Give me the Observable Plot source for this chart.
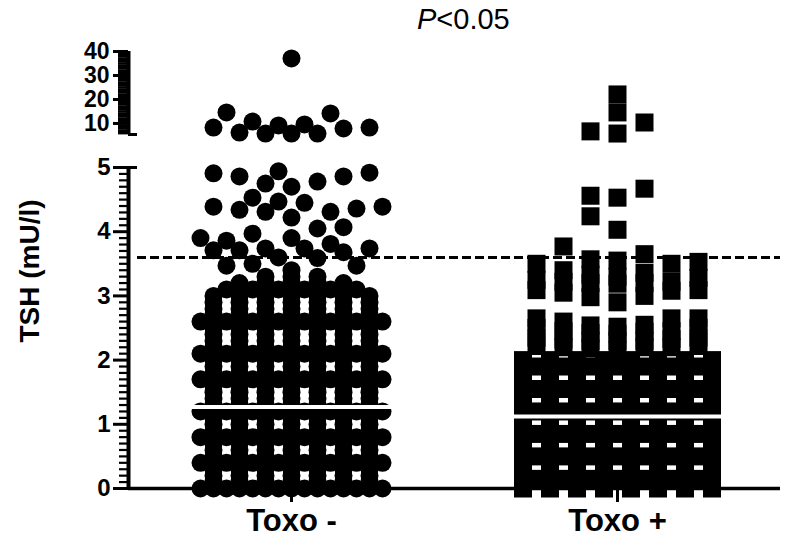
<!DOCTYPE html>
<html><head><meta charset="utf-8">
<script src="https://cdn.jsdelivr.net/npm/d3@7"></script>
<script src="https://cdn.jsdelivr.net/npm/@observablehq/plot@0.6"></script>
<style>
body{margin:0;background:#fff;}
#wrap{position:relative;width:788px;height:538px;font-family:"Liberation Sans",Arial,sans-serif;background:#fff;}
#wrap svg{position:absolute;left:0;top:0;}
#title{position:absolute;left:417px;top:3px;font-size:29px;line-height:32px;white-space:nowrap;color:#000;z-index:5;}
</style></head><body>
<div id="wrap"><div id="title"><i>P</i>&lt;0.05</div></div>
<script>
// ---- data ----
const groups = ["Toxo -", "Toxo +"];
// TSH values that repeat many times (value, number of subjects)
const toxoNegLevels = [0.0,0.1,0.2,0.3,0.4,0.5,0.6,0.7,0.8,0.9,1.0,1.1,1.2,1.3,1.4,1.5,1.6,1.7,1.8,1.9,2.0,2.1,2.2,2.3,2.4,2.5,2.6,2.7,2.8,2.9,3.0,3.1,3.2,3.3,3.4];
const toxoNegCounts = [15,7,7,7,15,7,7,7,15,7,7,7,15,7,7,7,7,15,7,7,7,15,7,7,7,7,15,7,7,7,7,6,5,3,1];
// isolated values
const toxoNegSparse = [3.47,3.47,3.50,3.59,3.60,3.68,3.71,3.71,3.74,3.74,3.74,
  3.81,3.86,3.90,3.90,3.97,4.05,4.07,
  4.22,4.31,4.31,4.34,4.36,4.39,4.39,4.45,4.47,4.53,
  4.70,4.75,4.78,4.86,4.86,4.91,4.92,4.94,
  5.8,5.8,5.8,6.2,7.9,8.3,8.3,9.2,9.6,10.8,14.2,14.6,37.1];
const toxoPosLevels = [0.0,0.1,0.15,0.2,0.3,0.4,0.5,0.6,0.7,0.8,0.85,0.9,1.0,1.1,1.2,1.3,1.4,1.5,1.55,1.6,1.7,1.8,1.9,2.0];
const toxoPosCounts = [8,8,7,8,8,8,15,8,8,8,7,8,8,8,15,8,8,8,7,8,8,8,15,8];
const toxoPosSparse = [2.15,2.18,2.2,2.2,2.2,2.22,2.22,2.3,2.3,2.3,2.32,2.33,2.35,2.35,2.41,2.42,2.44,2.45,2.45,2.5,2.5,2.52,2.54,2.55,2.6,2.65,2.65,2.65,
  2.9,2.98,3.0,3.05,3.08,3.09,3.09,3.19,3.2,3.2,3.22,3.22,3.25,3.28,3.3,3.33,3.36,3.4,3.5,3.5,3.53,3.55,3.57,3.65,3.77,
  4.03,4.24,4.53,4.56,4.67,
  5.8,6.7,10.4,14.6,22.1];
const medians = [1.27, 1.12];
const cutoff = 3.6;
const lowerTicks = [0,1,2,3,4,5];
const upperTicks = [10,20,30,40];

// ---- broken axis: two stacked panels ----
const W = 788, H = 538;
const ML = 128, MR = 8;
const lower = {domain: [0, 5], top: 167, bottom: 488, height: H};
const upper = {domain: [5.4, 40], top: 51, bottom: 134, height: 150};
const xOpts = {domain: [0, 2], axis: null};
const xScale = Plot.scale({x: {domain: [0, 2], range: [ML, W - MR]}});
const pxPerX = xScale.apply(1) - xScale.apply(0);
const yLow = Plot.scale({y: {domain: lower.domain, range: [lower.bottom, lower.top]}});
const yUp = Plot.scale({y: {domain: upper.domain, range: [upper.bottom, upper.top]}});

// Prism-like column scatter: repeated values side by side in rows of at most 8,
// isolated values placed greedily in the nearest free column slot
function greedy(values, yS, placed, {step, size, maxK, square, evenOnly}) {
  const ks = [0];
  for (let k = 1; k <= maxK; k++) if (!evenOnly || k % 2 === 0) ks.push(-k, k);
  const res = [];
  for (const v of values.slice().sort((a, b) => a - b)) {
    const py = yS.apply(v);
    let chosen = null, best = 0, bestD = -1;
    for (const k of ks) {
      const px = k * step;
      let d = Infinity;
      for (const p of placed) {
        const dx = Math.abs(p.px - px), dy = Math.abs(p.py - py);
        if (dy > 40) continue;
        const dd = square ? Math.max(dx, dy) : Math.hypot(dx, dy);
        if (dd < d) d = dd;
      }
      if (d >= size - 0.05) { chosen = k; break; }
      if (d > bestD + 1e-6) { bestD = d; best = k; }
    }
    const k = chosen !== null ? chosen : best;
    placed.push({px: k * step, py});
    res.push({v, off: k * step});
  }
  return res;
}
function layout(gi, levels, counts, sparse, opts) {
  const low = [], placed = [];
  levels.forEach((v, i) => {
    let n = counts[i];
    const py = yLow.apply(v);
    while (n > 0) {
      const c = Math.min(8, n);
      for (let j = 0; j < c; j++) {
        const off = (j - (c - 1) / 2) * 2 * opts.step;
        placed.push({px: off, py});
        low.push({v, off});
      }
      n -= c;
    }
  });
  const sl = greedy(sparse.filter(v => v <= 5), yLow, placed, opts);
  const su = greedy(sparse.filter(v => v > 5), yUp, [], {...opts, evenOnly: false});
  const toPt = d => ({group: groups[gi], v: d.v, x: gi + 0.5 + d.off / pxPerX});
  return {low: low.concat(sl).map(toPt), up: su.map(toPt)};
}
const neg = layout(0, toxoNegLevels, toxoNegCounts, toxoNegSparse, {step: 13, size: 18, maxK: 7, square: false, evenOnly: false});
const pos = layout(1, toxoPosLevels, toxoPosCounts, toxoPosSparse, {step: 13.5, size: 18, maxK: 7, square: true, evenOnly: true});
const sqR = 18 / Math.sqrt(Math.PI);

const halfW = [101 / pxPerX, 105 / pxPerX];
const medianData = medians.map((m, i) => ({m, x1: i + 0.5 - halfW[i], x2: i + 0.5 + halfW[i]}));
const minorLower = d3.range(1, 50).filter(i => i % 10 !== 0).map(i => i / 10);
const minorUpper = d3.range(6, 40).filter(i => i % 10 !== 0);
const cap = 9 / pxPerX;
const style = {fontFamily: "Liberation Sans, Arial, sans-serif", background: "transparent", color: "black", overflow: "visible"};

// lower panel (0–5) with x axis
const lowerChart = Plot.plot({
  width: W, height: lower.height,
  marginLeft: ML, marginRight: MR, marginTop: lower.top, marginBottom: H - lower.bottom,
  x: xOpts, y: {domain: lower.domain, label: null},
  style,
  marks: [
    Plot.ruleY([0], {x1: 0, x2: 2, strokeWidth: 3.5}),
    Plot.ruleX([0], {y1: 0, y2: 5, strokeWidth: 4}),
    Plot.ruleY([5], {x1: 0, x2: cap, strokeWidth: 3}),
    Plot.axisY({ticks: minorLower, tickSize: 9, tickFormat: () => "", strokeWidth: 2.2, label: null}),
    Plot.axisY({ticks: lowerTicks, tickSize: 15, tickPadding: 3, tickFormat: d3.format("d"), fontSize: 24, fontWeight: "bold", strokeWidth: 3, label: null}),
    Plot.axisX({ticks: [0.5, 1.5], tickFormat: t => groups[Math.floor(t)], tickSize: 14, tickPadding: 6, fontSize: 31, fontWeight: "bold", strokeWidth: 3, label: null}),
    Plot.ruleY([cutoff], {x1: cap, x2: 2, strokeDasharray: "9,4", strokeWidth: 3}),
    Plot.dot(neg.low, {x: "x", y: "v", r: 9, fill: "black", symbol: "circle"}),
    Plot.dot(pos.low, {x: "x", y: "v", r: sqR, fill: "black", symbol: "square"}),
    Plot.ruleY(medianData, {y: "m", x1: "x1", x2: "x2", stroke: "white", strokeWidth: 4}),
    Plot.text(["TSH (mU/l)"], {frameAnchor: "left", textAnchor: "middle", dx: -98, dy: -57, rotate: -90, fontSize: 28, fontWeight: "bold", fill: "black"})
  ]
});

// upper panel (5.4–40)
const upperChart = Plot.plot({
  width: W, height: upper.height,
  marginLeft: ML, marginRight: MR, marginTop: upper.top, marginBottom: upper.height - upper.bottom,
  x: xOpts, y: {domain: upper.domain, label: null},
  style,
  marks: [
    Plot.ruleX([0], {y1: upper.domain[0], y2: upper.domain[1], strokeWidth: 4}),
    Plot.ruleY([upper.domain[0]], {x1: 0, x2: cap, strokeWidth: 3}),
    Plot.axisY({ticks: minorUpper, tickSize: 10, tickFormat: () => "", strokeWidth: 2.7, label: null}),
    Plot.axisY({ticks: upperTicks, tickSize: 15, tickPadding: 4, tickFormat: d3.format("d"), fontSize: 23, fontWeight: "bold", strokeWidth: 3, label: null}),
    Plot.dot(neg.up, {x: "x", y: "v", r: 9, fill: "black", symbol: "circle"}),
    Plot.dot(pos.up, {x: "x", y: "v", r: sqR, fill: "black", symbol: "square"})
  ]
});

const wrap = document.getElementById("wrap");
wrap.appendChild(lowerChart);
wrap.appendChild(upperChart);
</script>
</body></html>
